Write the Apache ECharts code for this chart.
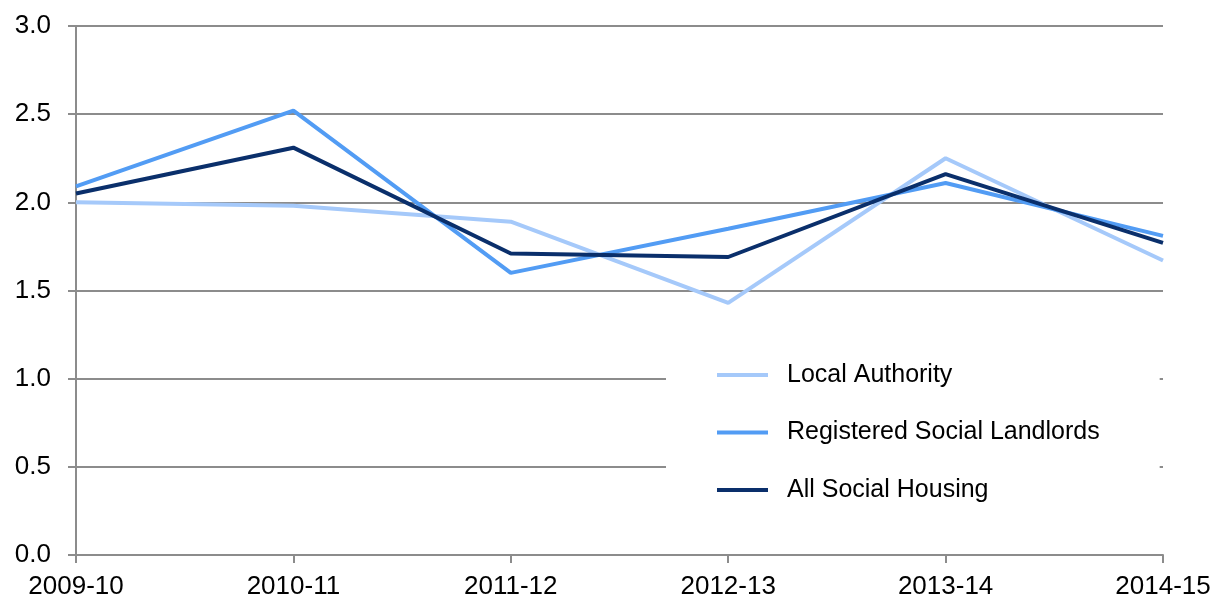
<!DOCTYPE html>
<html>
<head>
<meta charset="utf-8">
<script src="https://cdn.jsdelivr.net/npm/echarts@6/dist/echarts.min.js"></script>
<style>
  html, body { margin: 0; padding: 0; background: #fff; }
  #chart { width: 1218px; height: 601px; }
</style>
</head>
<body>
<div id="chart"></div>
<script>
  // data
  const years = ['2009-10', '2010-11', '2011-12', '2012-13', '2013-14', '2014-15'];
  const localAuthority = [2.00, 1.98, 1.89, 1.43, 2.25, 1.67];
  const registeredSocialLandlords = [2.09, 2.52, 1.60, 1.85, 2.11, 1.81];
  const allSocialHousing = [2.05, 2.31, 1.71, 1.69, 2.16, 1.77];
  const yTicks = ['0.0', '0.5', '1.0', '1.5', '2.0', '2.5', '3.0'];

  const font = '"Liberation Sans", Arial, sans-serif';
  const gray = '#8c8c8c';

  function line(name, color, data) {
    return {
      name: name,
      type: 'line',
      symbol: 'none',
      data: data,
      lineStyle: { color: color, width: 4 },
      itemStyle: { color: color },
      z: 3
    };
  }

  const chart = echarts.init(document.getElementById('chart'));
  chart.setOption({
    animation: false,
    backgroundColor: '#fff',
    grid: { left: 76, right: 55, top: 26, bottom: 46 },
    legend: {
      orient: 'vertical',
      left: 666,
      top: 342,
      padding: [20, 60, 20, 51],
      backgroundColor: '#fff',
      icon: 'rect',
      itemWidth: 51,
      itemHeight: 4,
      itemGap: 31.5,
      z: 2,
      textStyle: {
        fontFamily: font,
        fontSize: 25,
        lineHeight: 26,
        color: '#000',
        padding: [0, 0, 0, 14]
      },
      data: ['Local Authority', 'Registered Social Landlords', 'All Social Housing']
    },
    xAxis: {
      type: 'category',
      data: years,
      boundaryGap: false,
      axisLine: { lineStyle: { color: gray, width: 2 } },
      axisTick: { alignWithLabel: true, length: 8, lineStyle: { color: gray, width: 2 } },
      axisLabel: { fontFamily: font, fontSize: 26, color: '#000', margin: 19 }
    },
    yAxis: {
      type: 'value',
      min: 0,
      max: 3,
      interval: 0.5,
      axisLine: { show: true, lineStyle: { color: gray, width: 2 } },
      axisTick: { show: true, length: 8, lineStyle: { color: gray, width: 2 } },
      splitLine: { lineStyle: { color: gray, width: 2 } },
      axisLabel: {
        fontFamily: font, fontSize: 26, color: '#000', margin: 25,
        formatter: function (v) { return yTicks[Math.round(v * 2)]; }
      }
    },
    series: [
      line('Local Authority', '#a5c9fa', localAuthority),
      line('Registered Social Landlords', '#529cf4', registeredSocialLandlords),
      line('All Social Housing', '#0a2f6b', allSocialHousing)
    ]
  });
</script>
</body>
</html>
